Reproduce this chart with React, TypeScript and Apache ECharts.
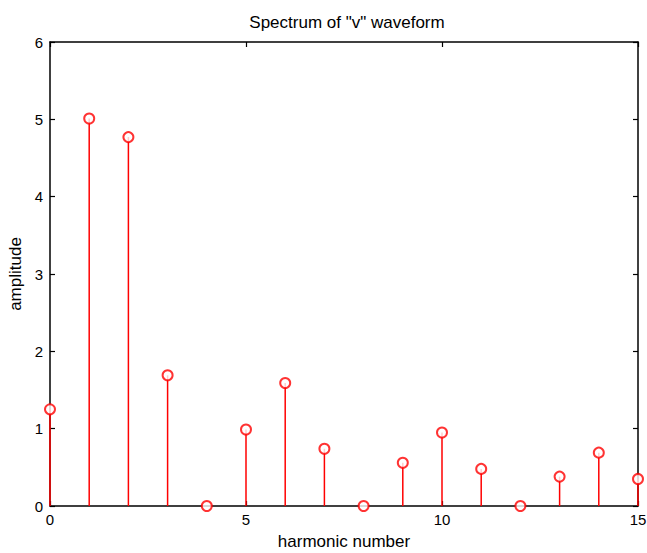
import React, { useEffect, useRef } from "react";
import * as echarts from "echarts";

const harmonics = [0, 1, 2, 3, 4, 5, 6, 7, 8, 9, 10, 11, 12, 13, 14, 15];
const amplitudes = [1.25, 5.01, 4.77, 1.69, 0, 0.99, 1.59, 0.74, 0, 0.56, 0.95, 0.48, 0, 0.38, 0.69, 0.35];
const titleText = 'Spectrum of "v" waveform';
const xName = "harmonic number";
const yName = "amplitude";

export default function App() {
  const ref = useRef<HTMLDivElement>(null);
  useEffect(() => {
    document.body.style.margin = "0";
    document.body.style.overflow = "hidden";
    if (!ref.current) return;
    const chart = echarts.init(ref.current, undefined, { renderer: "svg" });
    const pts = harmonics.map((h, i) => [h, amplitudes[i]]);
    const font = "Liberation Sans, Arial, sans-serif";
    const axisCommon = {
      axisLine: { show: true, onZero: false, lineStyle: { color: "#000", width: 1.5 } },
      axisTick: { show: true, inside: true, length: 5, lineStyle: { color: "#000", width: 1.2 } },
      splitLine: { show: false },
    };
    chart.setOption({
      animation: false,
      backgroundColor: "#fff",
      title: {
        text: titleText,
        left: 342,
        top: 9,
        textAlign: "center",
        textStyle: { fontSize: 17, fontWeight: "normal", color: "#000", fontFamily: font },
      },
      grid: { left: 50, right: 9, top: 42, bottom: 47, containLabel: false, outerBoundsMode: "none" },
      xAxis: [
        {
          type: "value",
          min: 0,
          max: 15,
          interval: 5,
          position: "bottom",
          name: xName,
          nameLocation: "middle",
          nameGap: 27,
          nameTextStyle: { fontSize: 17, color: "#000", fontFamily: font },
          axisLabel: { fontSize: 15, color: "#000", fontFamily: font, margin: 6 },
          ...axisCommon,
        },
        {
          type: "value",
          min: 0,
          max: 15,
          interval: 5,
          position: "top",
          axisLabel: { show: false },
          ...axisCommon,
        },
      ],
      yAxis: [
        {
          type: "value",
          min: 0,
          max: 6,
          interval: 1,
          position: "left",
          name: yName,
          nameLocation: "middle",
          nameGap: 21,
          nameTextStyle: { fontSize: 17, color: "#000", fontFamily: font },
          axisLabel: { fontSize: 15, color: "#000", fontFamily: font, margin: 7 },
          ...axisCommon,
        },
        {
          type: "value",
          min: 0,
          max: 6,
          interval: 1,
          position: "right",
          axisLabel: { show: false },
          ...axisCommon,
        },
      ],
      series: [
        {
          type: "custom",
          data: pts,
          clip: false,
          renderItem: (params: any, api: any) => {
            const x = api.value(0);
            const y = api.value(1);
            const p0 = api.coord([x, 0]);
            const p1 = api.coord([x, y]);
            return {
              type: "line",
              shape: { x1: p0[0], y1: p0[1], x2: p1[0], y2: p1[1] },
              style: { stroke: "#ff0000", lineWidth: 1.5 },
            };
          },
          z: 3,
        },
        {
          type: "scatter",
          data: pts,
          symbol: "emptyCircle",
          symbolSize: 10,
          clip: false,
          itemStyle: { color: "#ff0000", borderColor: "#ff0000", borderWidth: 1.5 },
          z: 4,
        },
      ],
    });
    return () => chart.dispose();
  }, []);
  return <div ref={ref} style={{ position: "absolute", left: 0, top: 0, width: 647, height: 553 }} />;
}
